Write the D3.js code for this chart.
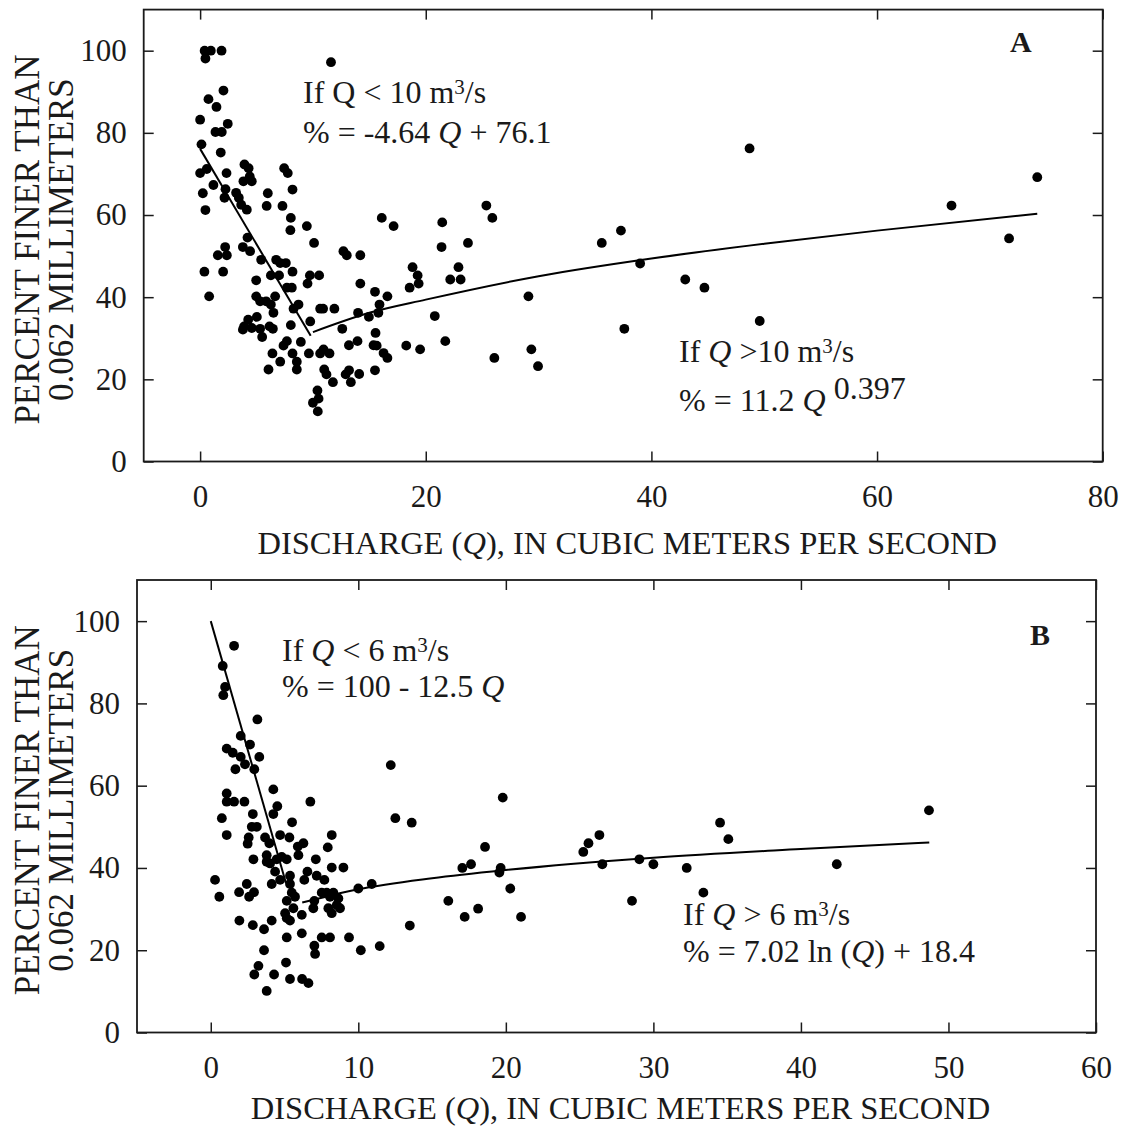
<!DOCTYPE html>
<html>
<head>
<meta charset="utf-8">
<script src="https://cdn.jsdelivr.net/npm/d3@7"></script>
<style>
  body { margin: 0; background: #fff; }
  svg { display: block; font-family: "Liberation Serif", "Times New Roman", serif; }
  text { white-space: pre; }
</style>
</head>
<body>
<svg id="chart" width="1123" height="1126"></svg>
<script>
// ------------------------
// data: [discharge Q (m3/s), percent finer than 0.062 mm]
// ------------------------
const pointsA = [
  [0.4,100],[0.95,100],[1.9,100],[0.47,98.1],[11.6,97.2],[2.07,90.3],[0.74,88.2],[1.45,86.3],
  [0,83.2],[2.45,82.2],[1.36,80.2],[1.92,80.2],[0.12,77.2],[1.83,75.2],[0,70.2],[0.59,71.2],
  [2.34,70.2],[3.93,72.3],[4.3,71.4],[4.4,69.4],[3.84,68.2],[4.58,68.2],[1.18,67.3],[0.24,65.3],
  [2.25,66.3],[2.16,64.2],[3.19,65.4],[3.43,64.2],[3.64,62.5],[4.14,61.3],[0.47,61.2],[6.0,65.3],
  [5.9,62.2],[7.45,71.4],[7.77,70.2],[8.19,66.2],[7.3,62.2],[8.04,59.3],[9.46,57.3],[8.0,56.3],
  [16.1,59.3],[4.2,54.5],
  [2.22,52.2],[3.79,52.2],[4.43,51.2],[1.57,50.2],[2.37,50.2],[10.1,53.2],[12.7,51.2],[13.0,50.2],
  [14.2,50.2],[0.38,46.2],[2.04,46.2],[5.41,49.1],[6.74,49.1],[7.1,48.3],[7.6,48.3],[8.19,46.2],
  [6.27,45.3],[7.0,45.3],[9.73,45.3],[10.55,45.3],[9.52,43.3],[4.97,44.1],[7.69,42.3],[8.13,42.3],
  [14.2,43.3],[15.5,41.3],[0.8,40.2],[4.97,40.2],[5.32,39],[5.85,39],[6.65,40.2],[6.27,38.2],
  [6.5,36.2],[8.28,37.2],[8.72,38.2],[10.64,37.2],[10.9,37.2],[11.9,37.2],[14.0,36.2],[14.96,35.2],
  [15.9,38.2],[9.76,34.1],[4.26,34.5],[5.03,35.2],[3.79,32.1],[3.9,32.9],[4.58,32.5],[5.32,32.3],
  [5.5,30.3],[6.15,32.9],[6.45,32.3],[8.04,33.2],[12.6,32.3],[15.55,31.3],[8.93,29.1],[7.39,28.2],
  [7.69,29.3],[6.41,26.3],[8.19,26.3],[9.64,26.3],[10.64,26.3],[10.94,27.3],[11.47,26.3],[13.19,28.3],
  [13.95,29.3],[15.37,28.3],[7.1,24.3],[8.57,24.3],[6.06,22.4],[8.57,22.4],[11.0,22.4],[11.2,21.2],
  [11.77,19.3],[12.9,21.2],[13.2,22.2],[13.36,19.3],[14.1,21.3],[15.5,22.2],[10.4,17.3],[10.5,15.3],
  [10.0,14.3],[10.43,12.2],
  [25.37,62.3],[25.9,59.3],[17.15,57.3],[21.46,58.2],[21.4,52.2],[23.74,53.2],[18.83,47.3],[22.9,47.3],
  [19.28,45.3],[19.37,43.3],[18.57,42.3],[22.17,44.3],[23.09,44.3],[16.6,40.2],[15.8,36.2],[29.1,40.2],
  [20.8,35.4],[15.65,28.2],[16.26,26.4],[16.6,25.2],[18.27,28.2],[19.5,27.3],[21.73,29.3],[26.08,25.2],
  [29.36,27.3],[29.95,23.2],
  [35.6,53.2],[37.3,56.2],[39.0,48.2],[37.6,32.3],[48.7,76.2],[43.0,44.3],[44.7,42.3],[49.6,34.2],
  [66.6,62.3],[71.7,54.3],[74.2,69.2]
];

const pointsB = [
  [1.58,94.0],[0.81,89.1],[0.97,84.0],[0.85,82.0],[3.16,76.1],[2.03,72.1],[2.66,70.0],[1.08,69.0],
  [1.49,68.0],[2.03,67.0],[3.29,67.0],[2.32,65.2],[1.67,64.0],[2.95,64.0],[4.24,59.1],[1.08,58.1],
  [1.08,56.1],[1.58,56.1],[2.28,56.1],[6.75,56.1],[4.51,55.0],[2.85,53.1],[4.24,53.1],[0.75,52.1],
  [5.51,51.1],[2.78,50.0],[3.12,50.0],[1.08,48.0],[2.57,47.4],[3.68,47.4],[4.7,48.0],[5.33,47.4],
  [8.2,48.0],
  [2.5,45.9],[3.97,46.0],[6.28,46.0],[5.9,45.2],[5.94,43.1],[7.93,45.0],[2.89,42.1],[3.79,43.1],
  [3.79,41.5],[4.02,41.1],[4.47,42.1],[4.81,42.7],[5.15,42.1],[7.12,42.1],[8.2,40.1],[8.99,40.1],
  [4.36,39.1],[5.37,38.1],[6.55,39.1],[7.18,38.1],[7.7,37.1],[6.34,37.1],[4.13,36.1],[4.7,37.1],
  [0.29,37.1],[0.58,33.0],[2.44,36.1],[2.93,34.1],[1.92,34.1],[2.6,33.0],[5.37,36.1],[5.49,34.0],
  [5.71,33.0],[5.15,32.0],[7.02,32.0],[7.52,34.0],[7.86,34.0],[8.31,34.0],[8.08,33.0],[8.65,32.6],
  [8.54,31.0],[5.6,30.2],[6.95,30.2],[7.97,30.2],[8.76,30.2],[8.2,29.0],[5.04,29.0],[5.15,27.8],
  [5.37,27.2],[6.17,28.6],[4.13,27.2],[1.94,27.2],[2.85,26.1],[3.61,25.1],[5.15,23.1],[6.17,24.1],
  [7.52,23.1],[8.08,23.1],[9.37,23.1],[7.02,21.1],[7.07,19.1],[3.61,20.0],[3.23,16.2],[2.95,14.1],
  [4.29,14.1],[5.1,17.0],[5.37,13.0],[6.19,13.0],[6.62,12.0],[3.79,10.1],
  [12.2,65.0],[12.51,52.1],[13.62,51.0],[19.79,57.1],[10.0,35.0],[10.91,36.1],[10.17,20.0],[11.45,21.0],
  [13.49,26.0],[16.1,32.0],[17.05,40.0],[17.64,40.9],[18.59,45.1],[17.21,28.1],[18.12,30.1],[19.65,40.0],
  [19.56,38.9],[20.3,35.0],[21.03,28.1],[25.25,43.9],[25.6,46.0],[26.34,48.0],[26.54,40.9],[28.55,32.0],
  [29.05,42.1],
  [30.0,40.9],[32.26,40.0],[33.39,34.0],[34.52,51.0],[35.08,47.0],[42.43,40.9],[48.68,54.0]
];

// fitted lines
const lowFitA  = [[0,76.1],[9.8,30.6]];
const highFitA = [[10,31.5],[15,36.2],[20,39.4],[30,45.1],[40,49.4],[50,53],[60,56.2],[74.2,60.3]];
const lowFitB  = [[0,100],[5.1,36.3]];
const highFitB = [[6.2,31.6],[8,33.2],[10,34.8],[15,37.5],[20,39.5],[30,42.5],[40,44.6],[48.7,46.2]];

// tick labels
const xTicksA = [0, 20, 40, 60, 80];
const xTicksB = [0, 10, 20, 30, 40, 50, 60];
const yTicks  = [0, 20, 40, 60, 80, 100];

// ------------------------
// layout of the two panels
// ------------------------
const panels = [
  {
    letter: "A", left: 143.7, right: 1102.7, top: 9.6, bottom: 461.5,
    xDomain: [-5, 80], xTicks: xTicksA, points: pointsA, lowFit: lowFitA, highFit: highFitA,
    letterPos: [1010, 52],
    notes: [
      {x: 303, y: 103, parts: [{t: "If Q < 10 m"}, {t: "3", sup: 9}, {t: "/s", down: 9}]},
      {x: 303, y: 143, parts: [{t: "% = -4.64 "}, {t: "Q", i: true}, {t: " + 76.1"}]},
      {x: 679, y: 362, parts: [{t: "If "}, {t: "Q", i: true}, {t: " >10 m"}, {t: "3", sup: 9}, {t: "/s", down: 9}]},
      {x: 679, y: 411, parts: [{t: "% = 11.2 "}, {t: "Q", i: true}, {t: " "}, {t: "0.397", raise: 12}]}
    ],
    xTitleY: 554
  },
  {
    letter: "B", left: 137, right: 1096, top: 580, bottom: 1032.5,
    xDomain: [-5, 60], xTicks: xTicksB, points: pointsB, lowFit: lowFitB, highFit: highFitB,
    letterPos: [1030, 645],
    notes: [
      {x: 282, y: 661, parts: [{t: "If "}, {t: "Q", i: true}, {t: " < 6 m"}, {t: "3", sup: 9}, {t: "/s", down: 9}]},
      {x: 282, y: 697, parts: [{t: "% = 100 - 12.5 "}, {t: "Q", i: true}]},
      {x: 683, y: 925, parts: [{t: "If "}, {t: "Q", i: true}, {t: " > 6 m"}, {t: "3", sup: 9}, {t: "/s", down: 9}]},
      {x: 683, y: 962, parts: [{t: "% = 7.02 ln ("}, {t: "Q", i: true}, {t: ") + 18.4"}]}
    ],
    xTitleY: 554 + 565
  }
];

const svg = d3.select("#chart");
const ink = "#1a1a1a";

function richText(g, x, y, parts, size) {
  const t = g.append("text").attr("x", x).attr("y", y).attr("font-size", size).attr("fill", ink);
  parts.forEach(p => {
    const s = t.append("tspan").text(p.t);
    if (p.i) s.attr("font-style", "italic");
    if (p.sup) s.attr("font-size", 21).attr("dy", -p.sup);
    if (p.down) s.attr("dy", p.down);
    if (p.raise) s.attr("dy", -p.raise);
  });
  return t;
}

function styleAxis(sel, fontSize) {
  sel.select(".domain").remove();
  sel.selectAll(".tick line").attr("stroke", ink).attr("stroke-width", 1.5);
  sel.selectAll(".tick text").attr("fill", ink).attr("font-size", fontSize);
  sel.attr("font-family", null).attr("font-size", null);
}

function drawPanel(p) {
  const g = svg.append("g");

  // scales
  const x = d3.scaleLinear().domain(p.xDomain).range([p.left, p.right]);
  const y = d3.scaleLinear().domain([0, 110]).range([p.bottom, p.top]);

  // axes, ticks pointing inward on all four sides
  g.append("g").attr("transform", `translate(0,${p.bottom})`)
    .call(d3.axisBottom(x).tickValues(p.xTicks).tickSizeInner(-10).tickSizeOuter(0).tickPadding(23))
    .call(s => styleAxis(s, 31));
  g.append("g").attr("transform", `translate(0,${p.top})`)
    .call(d3.axisTop(x).tickValues(p.xTicks).tickSizeInner(-10).tickSizeOuter(0).tickFormat(""))
    .call(s => styleAxis(s, 31));
  g.append("g").attr("transform", `translate(${p.left},0)`)
    .call(d3.axisLeft(y).tickValues(yTicks).tickSizeInner(-10).tickSizeOuter(0).tickPadding(17))
    .call(s => styleAxis(s, 31));
  g.append("g").attr("transform", `translate(${p.right},0)`)
    .call(d3.axisRight(y).tickValues(yTicks).tickSizeInner(-10).tickSizeOuter(0).tickFormat(""))
    .call(s => styleAxis(s, 31));

  // frame
  g.append("rect")
    .attr("x", p.left).attr("y", p.top)
    .attr("width", p.right - p.left).attr("height", p.bottom - p.top)
    .attr("fill", "none").attr("stroke", ink).attr("stroke-width", 1.8);

  // points
  g.append("g").selectAll("circle")
    .data(p.points)
    .join("circle")
      .attr("cx", d => x(d[0]))
      .attr("cy", d => y(d[1]))
      .attr("r", 4.9)
      .attr("fill", "#000");

  // fitted lines
  const line = d3.line().x(d => x(d[0])).y(d => y(d[1])).curve(d3.curveMonotoneX);
  [p.lowFit, p.highFit].forEach(f => {
    g.append("path").attr("d", line(f)).attr("fill", "none").attr("stroke", "#000").attr("stroke-width", 2);
  });

  // equations
  p.notes.forEach(n => richText(g, n.x, n.y, n.parts, 32));

  // panel letter
  g.append("text").attr("x", p.letterPos[0]).attr("y", p.letterPos[1])
    .attr("font-size", 30).attr("font-weight", "bold").attr("fill", ink).text(p.letter);

  // x title
  const xt = g.append("text").attr("x", (p.left + p.right) / 2 + 4).attr("y", p.xTitleY)
    .attr("text-anchor", "middle").attr("font-size", 32.5).attr("fill", ink);
  xt.append("tspan").text("DISCHARGE (");
  xt.append("tspan").attr("font-style", "italic").text("Q");
  xt.append("tspan").text("), IN CUBIC METERS PER SECOND");

  // y title, two lines
  const cy = (p.top + p.bottom) / 2 + 4;
  g.append("text").attr("transform", `translate(39,${cy}) rotate(-90)`)
    .attr("text-anchor", "middle").attr("font-size", 35).attr("fill", ink).text("PERCENT FINER THAN");
  g.append("text").attr("transform", `translate(73,${cy}) rotate(-90)`)
    .attr("text-anchor", "middle").attr("font-size", 35).attr("fill", ink).text("0.062 MILLIMETERS");
}

panels.forEach(drawPanel);
</script>
</body>
</html>
